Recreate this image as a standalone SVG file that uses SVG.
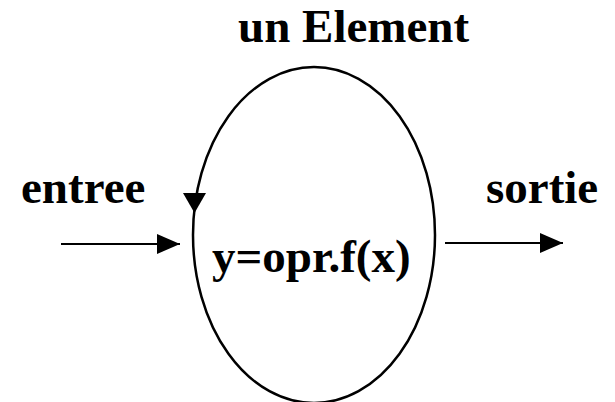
<svg xmlns="http://www.w3.org/2000/svg" width="615" height="402" viewBox="0 0 615 402">
<style>
text{font-family:"Liberation Serif","Times New Roman",serif;font-weight:bold;font-size:47px;fill:#000}
.ln{stroke:#000;stroke-width:2.2;fill:none}
</style>
<defs>
<marker id="ah" viewBox="0 0 23 20" refX="23" refY="10" markerWidth="23" markerHeight="20" markerUnits="userSpaceOnUse" orient="auto">
<path d="M0,0 L23,10 L0,20 Z" fill="#000"/>
</marker>
</defs>
<rect width="615" height="402" fill="#fff"/>
<g id="element">
<ellipse cx="314" cy="235" rx="121" ry="168" fill="none" stroke="#000" stroke-width="2.5"/>
<path d="M183,193 L206,193 L194.5,213 Z" fill="#000"/>
<text x="238" y="42">un Element</text>
<text x="212" y="272">y=opr.f(x)</text>
</g>
<g id="entree">
<text x="21" y="203">entree</text>
</g>
<g id="sortie">
<text x="486" y="203">sortie</text>
</g>
<g id="connectors">
<line class="ln" x1="61" y1="244" x2="180" y2="244" marker-end="url(#ah)"/>
<line class="ln" x1="445" y1="243" x2="563" y2="243" marker-end="url(#ah)"/>
</g>
</svg>
